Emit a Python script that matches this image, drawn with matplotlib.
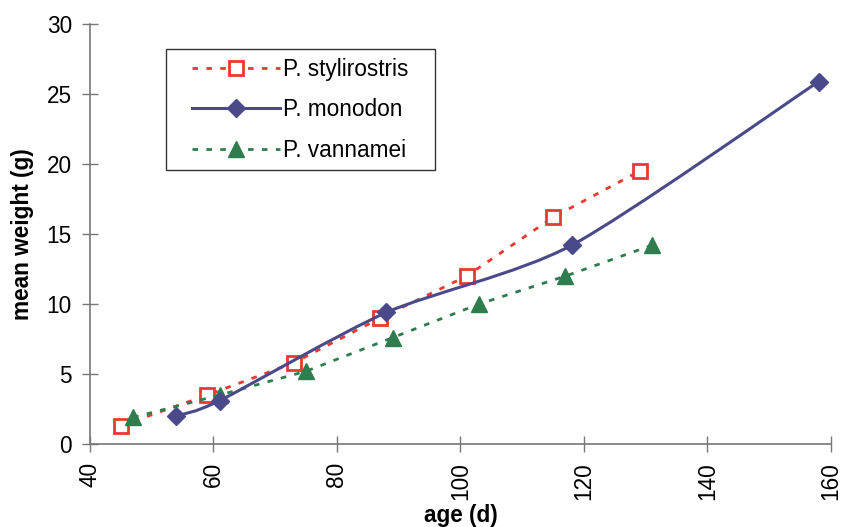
import numpy as np
import matplotlib
matplotlib.use("Agg")
import matplotlib.pyplot as plt
from matplotlib.path import Path
from matplotlib.patches import PathPatch, Rectangle
from matplotlib.lines import Line2D

plt.rcParams['font.family'] = ['Liberation Sans', 'DejaVu Sans']

# Data
styl_x = [45, 59, 73, 87, 101, 115, 129]
styl_y = [1.3, 3.5, 5.8, 9.0, 12.0, 16.2, 19.5]
mono_x = [54, 61, 88, 118, 158]
mono_y = [2.0, 3.1, 9.4, 14.2, 25.9]
vann_x = [47, 61, 75, 89, 103, 117, 131]
vann_y = [1.9, 3.5, 5.2, 7.6, 10.0, 12.0, 14.2]
labels = ["P. stylirostris", "P. monodon", "P. vannamei"]
xticks = [40, 60, 80, 100, 120, 140, 160]
yticks = [0, 5, 10, 15, 20, 25, 30]

RED = "#e63b2e"
NAVY = "#4a4a8a"
GREEN = "#2f7d4e"
FS = 16.3

fig = plt.figure(figsize=(8.41, 5.27), dpi=100)
ax = fig.add_axes([0.107, 0.1575, 0.881, 0.7965])
ax.set_xlim(40, 160)
ax.set_ylim(0, 30)


def smooth_path(xs, ys):
    pts = np.column_stack([xs, ys]).astype(float)
    n = len(pts)
    verts = [pts[0]]
    codes = [Path.MOVETO]
    for i in range(n - 1):
        p0 = pts[i - 1] if i > 0 else pts[i]
        p1 = pts[i]
        p2 = pts[i + 1]
        p3 = pts[i + 2] if i + 2 < n else pts[i + 1]
        c1 = p1 + (p2 - p0) / 8.0
        c2 = p2 - (p3 - p1) / 8.0
        verts += [c1, c2, p2]
        codes += [Path.CURVE4] * 3
    return Path(verts, codes)


# P. stylirostris
ax.plot(styl_x, styl_y, color=RED, lw=2.0, linestyle=(0, (2, 3)),
        marker='s', markersize=10, markerfacecolor='white',
        markeredgecolor=RED, markeredgewidth=2, zorder=3)
# P. monodon (smoothed line)
ax.add_patch(PathPatch(smooth_path(mono_x, mono_y), facecolor='none',
                       edgecolor=NAVY, lw=2.2, zorder=4))
ax.plot(mono_x, mono_y, linestyle='none', marker='D', markersize=9,
        color=NAVY, zorder=5)
# P. vannamei
ax.plot(vann_x, vann_y, color=GREEN, lw=2.0, linestyle=(0, (2, 3)),
        marker='^', markersize=11, markerfacecolor=GREEN,
        markeredgecolor=GREEN, zorder=3)

# Legend frame
ax.add_patch(Rectangle((0.1026, 0.6524), 0.363, 0.288, transform=ax.transAxes,
                       facecolor='white', edgecolor='#333333', lw=1.0,
                       zorder=6))

handles = [
    Line2D([], [], color=RED, lw=2.0, linestyle=(0, (2, 3)), marker='s',
           markersize=10, markerfacecolor='white', markeredgecolor=RED,
           markeredgewidth=2),
    Line2D([], [], color=NAVY, lw=2.2, marker='D', markersize=9),
    Line2D([], [], color=GREEN, lw=2.0, linestyle=(0, (2, 3)), marker='^',
           markersize=11),
]
leg = ax.legend(handles, labels, loc='upper left',
                bbox_to_anchor=(0.1195, 0.9525), fontsize=FS,
                handlelength=3.9, handletextpad=0.1, labelspacing=0.78,
                borderpad=0.6, borderaxespad=0, frameon=False)
leg.set_zorder(7)

ax.set_xticks(xticks)
ax.set_yticks(yticks)
ax.set_xticklabels([str(v) for v in xticks], rotation=90)
ax.tick_params(axis='both', direction='inout', length=11, width=1,
               color='#777777', labelsize=FS, pad=7.5)

for s in ['top', 'right']:
    ax.spines[s].set_visible(False)
for s in ['left', 'bottom']:
    ax.spines[s].set_color('#777777')
    ax.spines[s].set_linewidth(1.2)

ax.set_xlabel("age (d)", fontsize=FS, fontweight='bold', labelpad=3)
ax.set_ylabel("mean weight (g)", fontsize=FS, fontweight='bold', labelpad=9)

fig.savefig("out.png", dpi=100)
